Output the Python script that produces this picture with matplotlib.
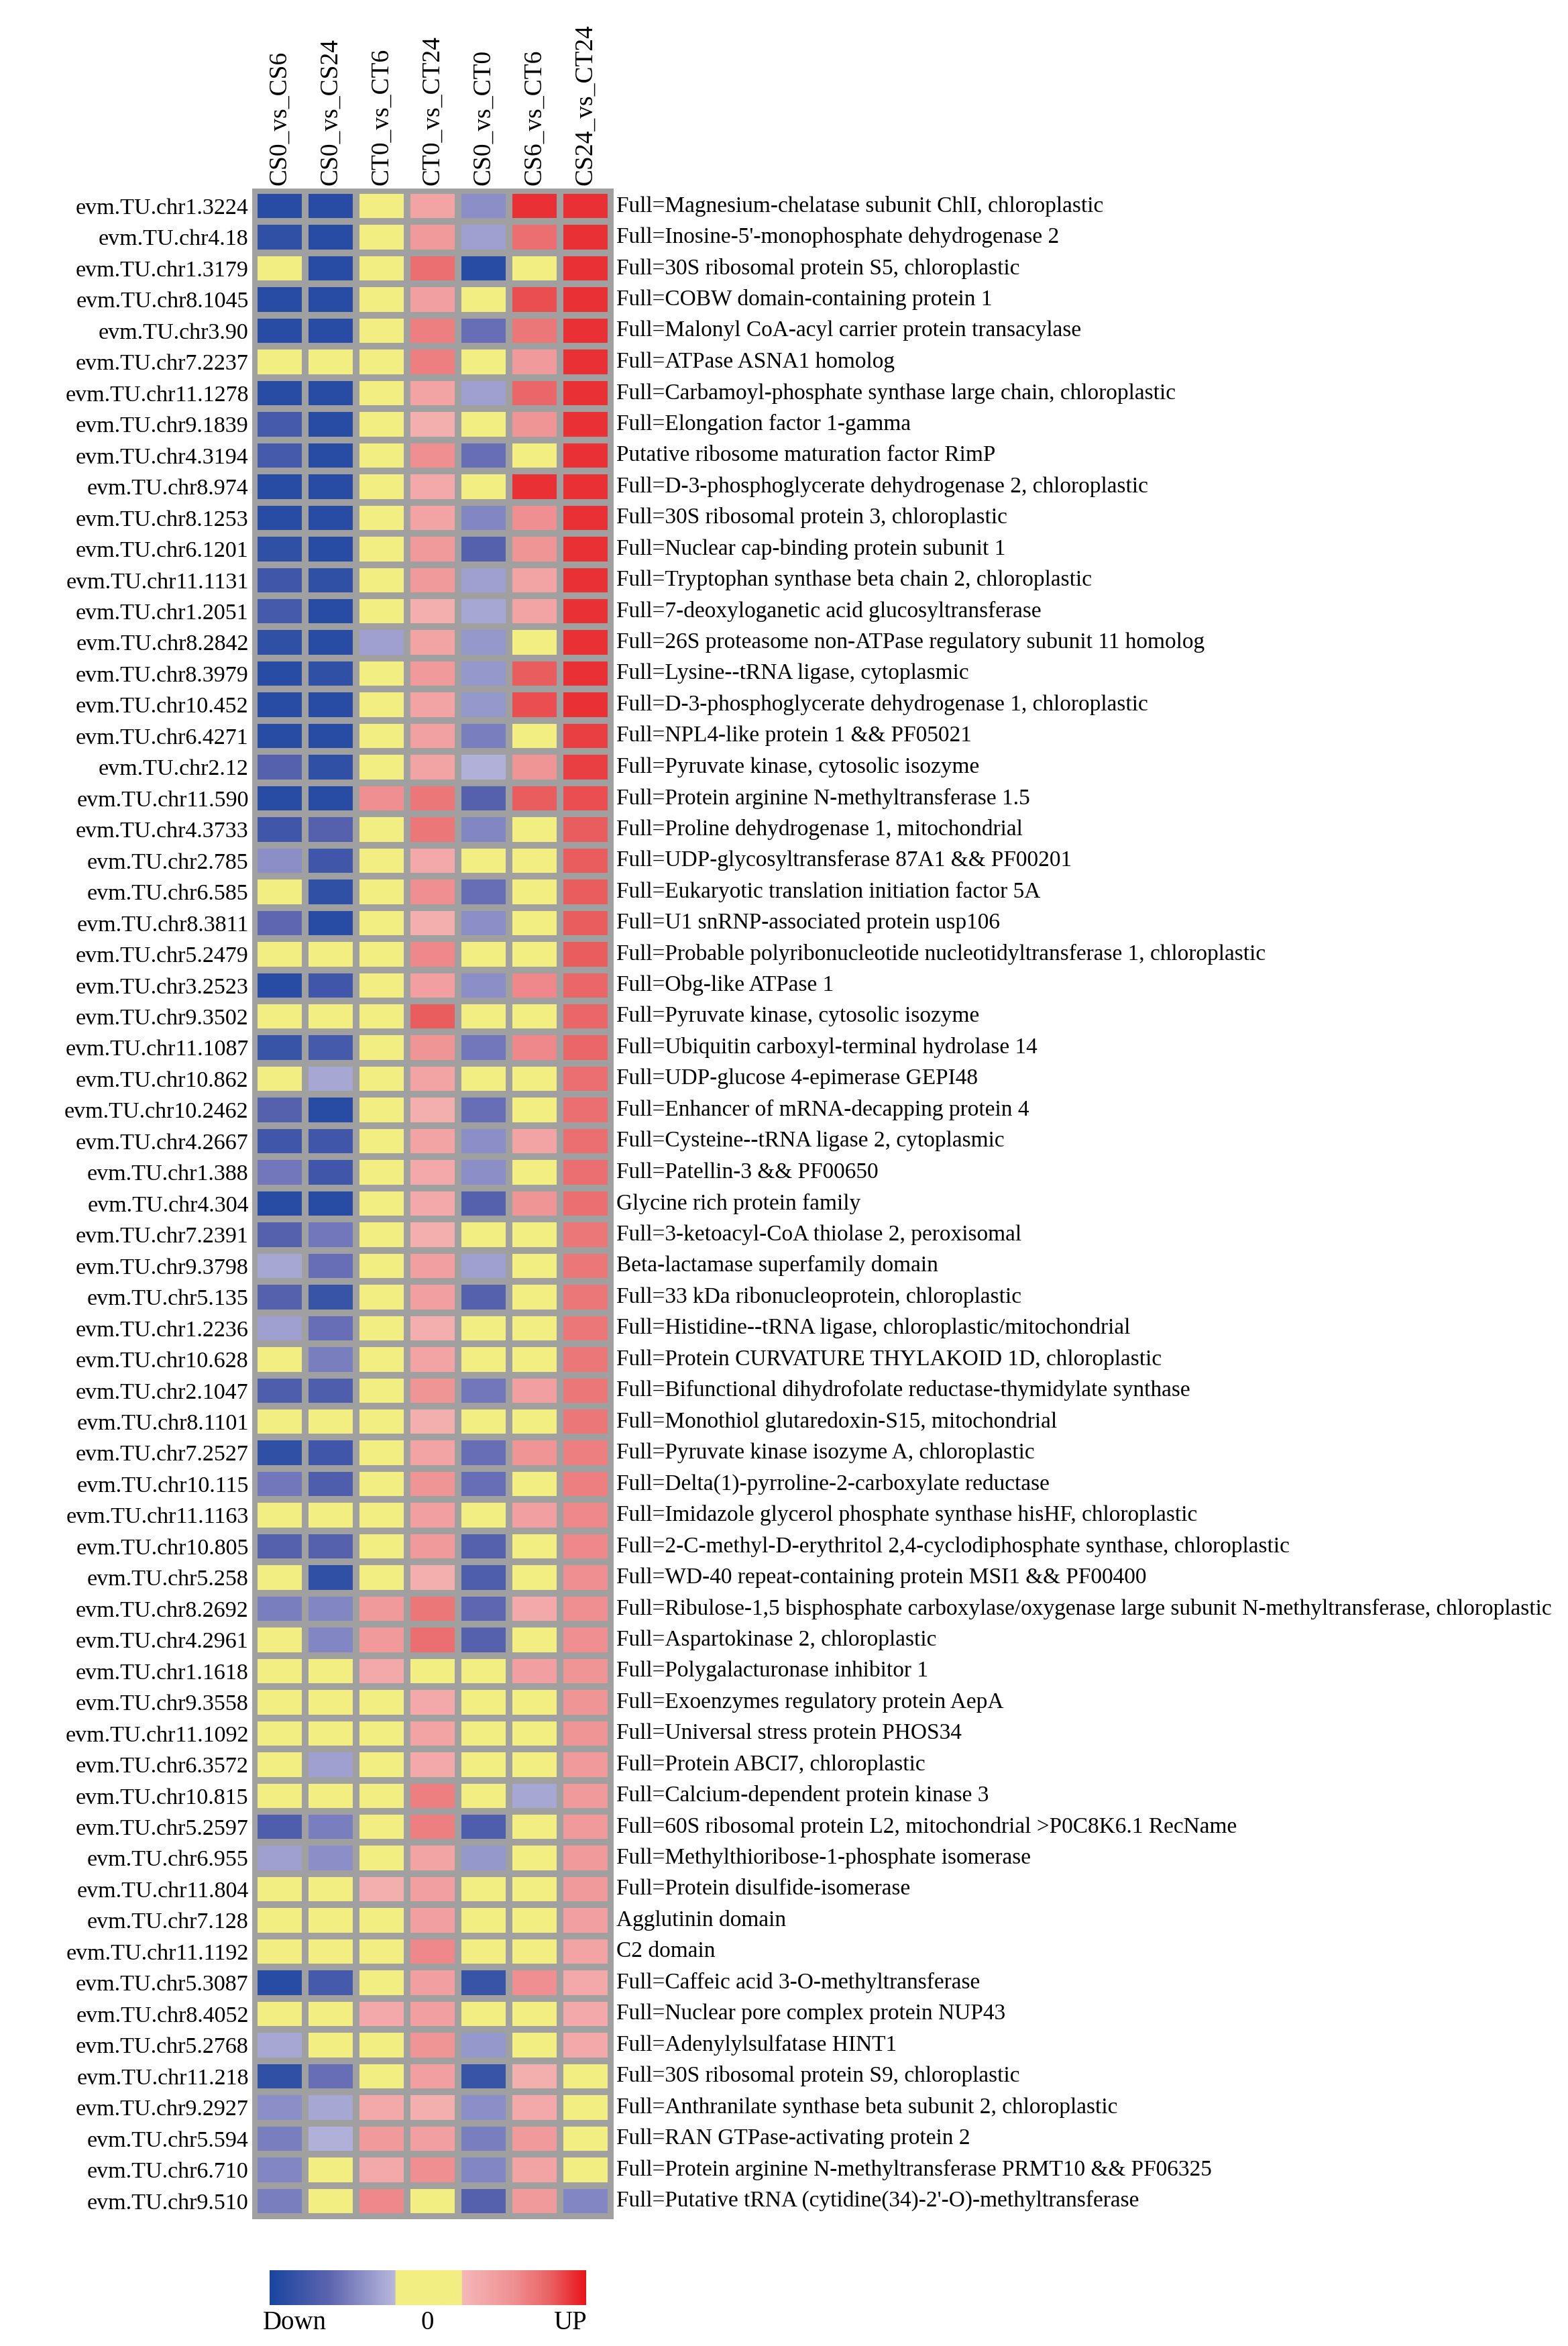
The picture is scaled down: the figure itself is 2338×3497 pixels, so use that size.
import numpy as np
import matplotlib
matplotlib.use("Agg")
import matplotlib.pyplot as plt
from matplotlib.colors import LinearSegmentedColormap

plt.rcParams['font.family'] = ['Liberation Serif', 'DejaVu Serif']

comparisons = ["CS0_vs_CS6", "CS0_vs_CS24", "CT0_vs_CT6", "CT0_vs_CT24",
               "CS0_vs_CT0", "CS6_vs_CT6", "CS24_vs_CT24"]

gene_ids = ["chr1.3224", "chr4.18", "chr1.3179", "chr8.1045", "chr3.90", "chr7.2237",
            "chr11.1278", "chr9.1839", "chr4.3194", "chr8.974", "chr8.1253", "chr6.1201",
            "chr11.1131", "chr1.2051", "chr8.2842", "chr8.3979", "chr10.452", "chr6.4271",
            "chr2.12", "chr11.590", "chr4.3733", "chr2.785", "chr6.585", "chr8.3811",
            "chr5.2479", "chr3.2523", "chr9.3502", "chr11.1087", "chr10.862", "chr10.2462",
            "chr4.2667", "chr1.388", "chr4.304", "chr7.2391", "chr9.3798", "chr5.135",
            "chr1.2236", "chr10.628", "chr2.1047", "chr8.1101", "chr7.2527", "chr10.115",
            "chr11.1163", "chr10.805", "chr5.258", "chr8.2692", "chr4.2961", "chr1.1618",
            "chr9.3558", "chr11.1092", "chr6.3572", "chr10.815", "chr5.2597", "chr6.955",
            "chr11.804", "chr7.128", "chr11.1192", "chr5.3087", "chr8.4052", "chr5.2768",
            "chr11.218", "chr9.2927", "chr5.594", "chr6.710", "chr9.510"]

annotations = [
    "Full=Magnesium-chelatase subunit ChlI, chloroplastic",
    "Full=Inosine-5'-monophosphate dehydrogenase 2",
    "Full=30S ribosomal protein S5, chloroplastic",
    "Full=COBW domain-containing protein 1",
    "Full=Malonyl CoA-acyl carrier protein transacylase",
    "Full=ATPase ASNA1 homolog",
    "Full=Carbamoyl-phosphate synthase large chain, chloroplastic",
    "Full=Elongation factor 1-gamma",
    "Putative ribosome maturation factor RimP",
    "Full=D-3-phosphoglycerate dehydrogenase 2, chloroplastic",
    "Full=30S ribosomal protein 3, chloroplastic",
    "Full=Nuclear cap-binding protein subunit 1",
    "Full=Tryptophan synthase beta chain 2, chloroplastic",
    "Full=7-deoxyloganetic acid glucosyltransferase",
    "Full=26S proteasome non-ATPase regulatory subunit 11 homolog",
    "Full=Lysine--tRNA ligase, cytoplasmic",
    "Full=D-3-phosphoglycerate dehydrogenase 1, chloroplastic",
    "Full=NPL4-like protein 1 && PF05021",
    "Full=Pyruvate kinase, cytosolic isozyme",
    "Full=Protein arginine N-methyltransferase 1.5",
    "Full=Proline dehydrogenase 1, mitochondrial",
    "Full=UDP-glycosyltransferase 87A1 && PF00201",
    "Full=Eukaryotic translation initiation factor 5A",
    "Full=U1 snRNP-associated protein usp106",
    "Full=Probable polyribonucleotide nucleotidyltransferase 1, chloroplastic",
    "Full=Obg-like ATPase 1",
    "Full=Pyruvate kinase, cytosolic isozyme",
    "Full=Ubiquitin carboxyl-terminal hydrolase 14",
    "Full=UDP-glucose 4-epimerase GEPI48",
    "Full=Enhancer of mRNA-decapping protein 4",
    "Full=Cysteine--tRNA ligase 2, cytoplasmic",
    "Full=Patellin-3 && PF00650",
    "Glycine rich protein family",
    "Full=3-ketoacyl-CoA thiolase 2, peroxisomal",
    "Beta-lactamase superfamily domain",
    "Full=33 kDa ribonucleoprotein, chloroplastic",
    "Full=Histidine--tRNA ligase, chloroplastic/mitochondrial",
    "Full=Protein CURVATURE THYLAKOID 1D, chloroplastic",
    "Full=Bifunctional dihydrofolate reductase-thymidylate synthase",
    "Full=Monothiol glutaredoxin-S15, mitochondrial",
    "Full=Pyruvate kinase isozyme A, chloroplastic",
    "Full=Delta(1)-pyrroline-2-carboxylate reductase",
    "Full=Imidazole glycerol phosphate synthase hisHF, chloroplastic",
    "Full=2-C-methyl-D-erythritol 2,4-cyclodiphosphate synthase, chloroplastic",
    "Full=WD-40 repeat-containing protein MSI1 && PF00400",
    "Full=Ribulose-1,5 bisphosphate carboxylase/oxygenase large subunit N-methyltransferase, chloroplastic",
    "Full=Aspartokinase 2, chloroplastic",
    "Full=Polygalacturonase inhibitor 1",
    "Full=Exoenzymes regulatory protein AepA",
    "Full=Universal stress protein PHOS34",
    "Full=Protein ABCI7, chloroplastic",
    "Full=Calcium-dependent protein kinase 3",
    "Full=60S ribosomal protein L2, mitochondrial >P0C8K6.1 RecName",
    "Full=Methylthioribose-1-phosphate isomerase",
    "Full=Protein disulfide-isomerase",
    "Agglutinin domain",
    "C2 domain",
    "Full=Caffeic acid 3-O-methyltransferase",
    "Full=Nuclear pore complex protein NUP43",
    "Full=Adenylylsulfatase HINT1",
    "Full=30S ribosomal protein S9, chloroplastic",
    "Full=Anthranilate synthase beta subunit 2, chloroplastic",
    "Full=RAN GTPase-activating protein 2",
    "Full=Protein arginine N-methyltransferase PRMT10 && PF06325",
    "Full=Putative tRNA (cytidine(34)-2'-O)-methyltransferase",
]

# relative change per comparison, -1 = strongly down, 0 = unchanged, 1 = strongly up
values = np.array([
    [-1, -1, 0, 0.35, -0.4, 1, 1],
    [-0.95, -1, 0, 0.45, -0.3, 0.75, 1],
    [0, -1, 0, 0.75, -1, 0, 1],
    [-1, -1, 0, 0.4, 0, 0.9, 1],
    [-1, -1, 0, 0.65, -0.6, 0.7, 1],
    [0, 0, 0, 0.65, 0, 0.45, 1],
    [-1, -1, 0, 0.35, -0.3, 0.8, 1],
    [-0.8, -1, 0, 0.25, 0, 0.5, 1],
    [-0.8, -1, 0, 0.55, -0.6, 0, 1],
    [-1, -1, 0, 0.3, 0, 1, 1],
    [-1, -1, 0, 0.35, -0.45, 0.55, 1],
    [-0.95, -1, 0, 0.45, -0.7, 0.5, 1],
    [-0.85, -0.95, 0, 0.45, -0.3, 0.35, 1],
    [-0.8, -1, 0, 0.25, -0.25, 0.35, 1],
    [-0.95, -1, -0.3, 0.35, -0.35, 0, 1],
    [-1, -0.95, 0, 0.45, -0.35, 0.85, 1],
    [-1, -1, 0, 0.35, -0.35, 0.9, 1],
    [-1, -1, 0, 0.38, -0.5, 0, 0.95],
    [-0.7, -0.95, 0, 0.35, -0.2, 0.5, 0.95],
    [-1, -1, 0.55, 0.7, -0.7, 0.85, 0.9],
    [-0.85, -0.7, 0, 0.7, -0.45, 0, 0.85],
    [-0.4, -0.85, 0, 0.3, 0, 0, 0.85],
    [0, -0.95, 0, 0.55, -0.6, 0, 0.85],
    [-0.65, -1, 0, 0.25, -0.4, 0, 0.85],
    [0, 0, 0, 0.6, 0, 0, 0.85],
    [-1, -0.85, 0, 0.4, -0.4, 0.6, 0.8],
    [0, 0, 0, 0.85, 0, 0, 0.8],
    [-0.9, -0.8, 0, 0.5, -0.55, 0.6, 0.8],
    [0, -0.25, 0, 0.35, 0, 0, 0.75],
    [-0.7, -1, 0, 0.25, -0.6, 0, 0.75],
    [-0.85, -0.85, 0, 0.35, -0.4, 0.35, 0.75],
    [-0.55, -0.85, 0, 0.3, -0.4, 0, 0.75],
    [-1, -1, 0, 0.3, -0.7, 0.5, 0.75],
    [-0.7, -0.55, 0, 0.25, 0, 0, 0.7],
    [-0.25, -0.6, 0, 0.4, -0.3, 0, 0.7],
    [-0.7, -0.9, 0, 0.4, -0.7, 0, 0.7],
    [-0.3, -0.6, 0, 0.25, 0, 0, 0.7],
    [0, -0.5, 0, 0.35, 0, 0, 0.7],
    [-0.75, -0.75, 0, 0.5, -0.55, 0.4, 0.7],
    [0, 0, 0, 0.25, 0, 0, 0.7],
    [-0.95, -0.85, 0, 0.35, -0.6, 0.5, 0.65],
    [-0.55, -0.75, 0, 0.5, -0.6, 0, 0.65],
    [0, 0, 0, 0.4, 0, 0.4, 0.6],
    [-0.7, -0.7, 0, 0.45, -0.7, 0, 0.6],
    [0, -0.95, 0, 0.25, -0.75, 0, 0.55],
    [-0.5, -0.45, 0.45, 0.7, -0.65, 0.3, 0.55],
    [0, -0.45, 0.45, 0.75, -0.7, 0, 0.55],
    [0, 0, 0.3, 0, 0, 0.4, 0.5],
    [0, 0, 0, 0.3, 0, 0, 0.5],
    [0, 0, 0, 0.35, 0, 0, 0.5],
    [0, -0.3, 0, 0.3, 0, 0, 0.45],
    [0, 0, 0, 0.65, 0, -0.25, 0.45],
    [-0.75, -0.5, 0, 0.65, -0.75, 0, 0.45],
    [-0.3, -0.4, 0, 0.35, -0.35, 0, 0.45],
    [0, 0, 0.25, 0.4, 0, 0, 0.45],
    [0, 0, 0, 0.4, 0, 0, 0.4],
    [0, 0, 0, 0.6, 0, 0, 0.35],
    [-1, -0.8, 0, 0.4, -0.9, 0.55, 0.3],
    [0, 0, 0.3, 0.4, 0, 0, 0.3],
    [-0.25, 0, 0, 0.5, -0.35, 0, 0.3],
    [-0.95, -0.6, 0, 0.4, -0.9, 0.25, 0],
    [-0.4, -0.25, 0.3, 0.25, -0.4, 0.3, 0],
    [-0.5, -0.2, 0.45, 0.4, -0.5, 0.45, 0],
    [-0.45, 0, 0.3, 0.55, -0.45, 0.35, 0],
    [-0.5, 0, 0.6, 0, -0.7, 0.45, -0.45],
])

# blue -> lavender | yellow band | pink -> red
cmap = LinearSegmentedColormap.from_list("updown", [
    (0.0, "#1a46a0"), (0.2, "#5c64b0"), (0.43, "#b9b8dc"), (0.4301, "#f2ee82"),
    (0.5699, "#f2ee82"), (0.57, "#f5b8b8"), (0.75, "#ef9092"), (0.88, "#ea6163"),
    (1.0, "#e8141b")])

fig = plt.figure(figsize=(23.38, 34.97), dpi=100)
W, H = 2338, 3497
x0, x1, y0, y1 = 379, 911, 284, 3304
ax = fig.add_axes([x0 / W, 1 - y1 / H, (x1 - x0) / W, (y1 - y0) / H])
nrow, ncol = values.shape
ax.pcolormesh(np.arange(ncol + 1), np.arange(nrow + 1), values, cmap=cmap,
              vmin=-1.1, vmax=1.1, edgecolors="#a0a0a0", linewidth=7)
ax.set_xlim(0, ncol)
ax.set_ylim(nrow, 0)
for s in ax.spines.values():
    s.set_color("#a0a0a0")
    s.set_linewidth(5)
ax.set_xticks(np.arange(ncol) + 0.5)
ax.set_xticklabels(comparisons, rotation=90, fontsize=27)
ax.xaxis.tick_top()
ax.set_yticks(np.arange(nrow) + 0.5)
ax.set_yticklabels(["evm.TU." + g for g in gene_ids], fontsize=24.5)
ax.tick_params(length=0, pad=6)
for i, a in enumerate(annotations):
    ax.text(ncol + 0.1, i + 0.5, a, fontsize=24, va="center", ha="left", clip_on=False)

# colour key
cax = fig.add_axes([402 / W, 1 - 3436 / H, (873 - 402) / W, (3436 - 3384) / H])
key = np.concatenate([np.linspace(-1.1, -0.15, 160), np.zeros(82), np.linspace(0.15, 1.1, 158)])
cax.imshow(key[None, :], aspect="auto", cmap=cmap, vmin=-1.1, vmax=1.1, extent=[0, 1, 0, 1])
cax.set_xticks([0.08, 0.5, 0.95])
cax.set_xticklabels(["Down", "0", "UP"], fontsize=28)
cax.set_yticks([])
cax.tick_params(length=0, pad=6)
for s in cax.spines.values():
    s.set_visible(False)

fig.savefig("out.png", dpi=100)
